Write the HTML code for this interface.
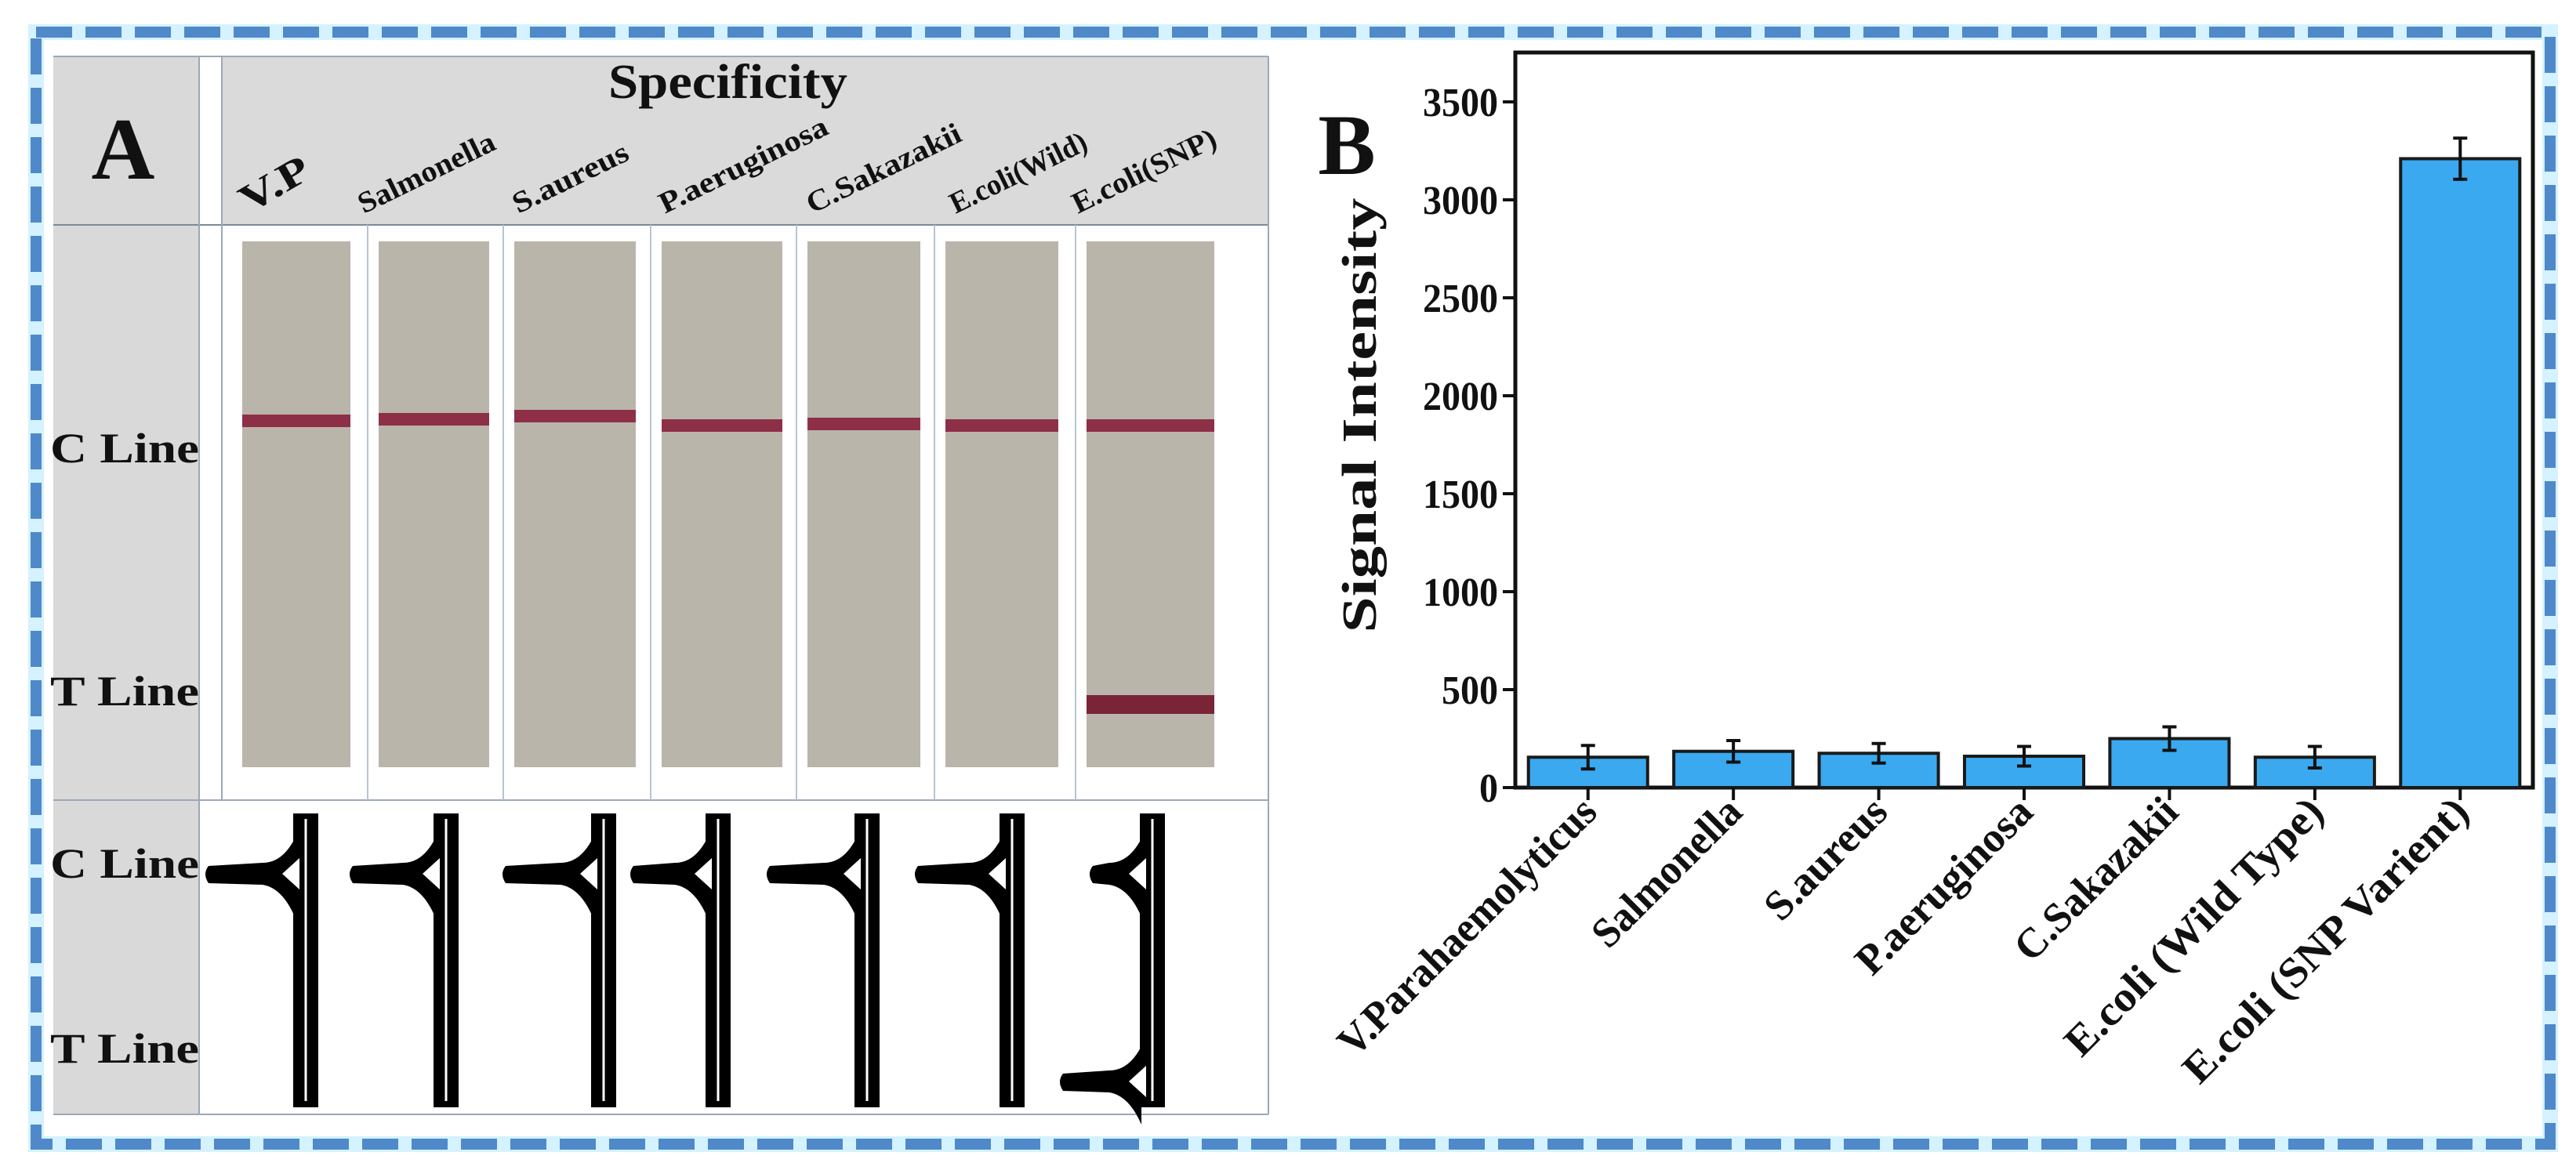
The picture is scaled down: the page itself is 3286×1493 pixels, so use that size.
<!DOCTYPE html>
<html><head><meta charset="utf-8">
<style>
html,body{margin:0;padding:0;background:#fff;}
body{width:3286px;height:1493px;overflow:hidden;position:relative;font-family:"Liberation Serif",serif;}
svg{position:absolute;left:0;top:0;}
text{font-family:"Liberation Serif",serif;font-weight:bold;fill:#111;}
</style></head>
<body>
<svg width="3286" height="1493" viewBox="0 0 3286 1493" xmlns="http://www.w3.org/2000/svg">
  <rect x="46" y="41" width="3207" height="1419" fill="none" stroke="#d4f2ff" stroke-width="20"/>
  <rect x="46" y="41" width="3207" height="1419" fill="none" stroke="#4f89c9" stroke-width="14" stroke-dasharray="46 17"/>

  <g>
    <rect x="68" y="72" width="186" height="1350" fill="#d9d9d9"/>
    <rect x="283" y="72" width="1335" height="215" fill="#dadada"/>
    <line x1="68" y1="287" x2="1618" y2="287" stroke="#7a8a9a" stroke-width="2"/>
    <line x1="68" y1="1021" x2="1618" y2="1021" stroke="#9aa8b8" stroke-width="2"/>
    <line x1="68" y1="1422" x2="1618" y2="1422" stroke="#9aa8b8" stroke-width="2"/>
    <line x1="1618" y1="72" x2="1618" y2="1422" stroke="#9aa8b8" stroke-width="2"/>
    <line x1="68" y1="72" x2="1618" y2="72" stroke="#9aa8b8" stroke-width="2"/>
    <line x1="254" y1="72" x2="254" y2="1422" stroke="#9aa8b8" stroke-width="2"/>
    <line x1="283" y1="72" x2="283" y2="1021" stroke="#9aa8b8" stroke-width="2"/>
    <text x="157" y="228" font-size="112" text-anchor="middle">A</text>
    <text x="776" y="125" font-size="62" textLength="305" lengthAdjust="spacingAndGlyphs">Specificity</text>
    <text x="64" y="590" font-size="54" textLength="190" lengthAdjust="spacingAndGlyphs">C Line</text>
    <text x="64" y="900" font-size="54" textLength="190" lengthAdjust="spacingAndGlyphs">T Line</text>
    <text x="64" y="1120" font-size="54" textLength="190" lengthAdjust="spacingAndGlyphs">C Line</text>
    <text x="64" y="1356" font-size="54" textLength="190" lengthAdjust="spacingAndGlyphs">T Line</text>
    <g id="strips"></g>
    <g id="peaks"></g>
    <g id="strip-labels"></g>
  </g>

  <g>
    <text x="1718" y="222" font-size="110" text-anchor="middle">B</text>
    <text transform="translate(1755,530) rotate(-90)" font-size="62" text-anchor="middle" textLength="555" lengthAdjust="spacingAndGlyphs">Signal Intensity</text>
    <g id="chart"></g>
  </g>
</svg>
<script>
// ---- Chart data ----
const categories = ["V.Parahaemolyticus","Salmonella","S.aureus","P.aeruginosa","C.Sakazakii","E.coli (Wild Type)","E.coli (SNP Varient)"];
const values = [155, 185, 175, 160, 250, 155, 3210];
const errors = [60, 55, 50, 50, 60, 55, 105];
const yTicks = [0, 500, 1000, 1500, 2000, 2500, 3000, 3500];
const yMax = 3752;

// ---- Panel A data ----
const stripNames = ["V.P","Salmonella","S.aureus","P.aeruginosa","C.Sakazakii","E.coli(Wild)","E.coli(SNP)"];
const tLinePresent = [0,0,0,0,0,0,1];

const NS = "http://www.w3.org/2000/svg";
function mk(tag, attrs, parent){const e=document.createElementNS(NS,tag);for(const k in attrs)e.setAttribute(k,attrs[k]);parent.appendChild(e);return e;}

const stripL = [309,483,656,844,1030,1206,1386];
const stripR = [447,624,811,998,1174,1350,1549];
const labelX = [317,464,661,848,1036,1219,1375];
const labelLen = [95,190,160,235,215,190,200];
const peakX = [390,569,770,916,1106,1291,1470];
const armL = [266,450,645,808,982,1171,1394];
const cY = [537,535,531,543,541,543,543];
const strips = document.getElementById('strips');
const peaks = document.getElementById('peaks');
const slabels = document.getElementById('strip-labels');
for (let i=0;i<stripNames.length;i++){
  if(i>0){
    const sep = mk('line',{x1:stripL[i]-14,y1:287,x2:stripL[i]-14,y2:1021,stroke:'#b8c4d0','stroke-width':2},strips);
    
    
  }
  const s = mk('rect',{x:stripL[i],y:308,width:stripR[i]-stripL[i],height:671,fill:'#b9b5aa'},strips);
  
  
  const c = mk('rect',{x:stripL[i],y:cY[i]-8,width:stripR[i]-stripL[i],height:16,fill:'#8e2f48'},strips);
  
  
  if(tLinePresent[i]){
    const t = mk('rect',{x:stripL[i],y:887,width:stripR[i]-stripL[i],height:24,fill:'#7a2438'},strips);
    
    
  }
  const lab = mk('text',{transform:`translate(${labelX[i]},273) rotate(${i===0?-30:-26})`,'font-size':i===0?50:38,textLength:labelLen[i],lengthAdjust:'spacingAndGlyphs'},slabels);
  lab.textContent = stripNames[i];
  
  
  const px = peakX[i];
  const v = mk('rect',{x:px-16,y:1038,width:32,height:375,fill:'#000'},peaks);
  
  
  mk('line',{x1:px,y1:1045,x2:px,y2:1405,stroke:'#fff','stroke-width':3},peaks);
  const arms = [1115];
  if(tLinePresent[i]) arms.push(1380);
  arms.forEach((ay,k)=>{
    const al = (k===1)?1356:armL[i];
    const p = mk('path',{d:`M${al} ${ay-10} Q${al-8} ${ay} ${al} ${ay+12} L${px-55} ${ay+14} Q${px-30} ${ay+18} ${px-14} ${ay+55} L${px-14} ${ay-45} Q${px-30} ${ay-14} ${px-55} ${ay-14} Z`,fill:'#000'},peaks);
    
    
    mk('path',{d:`M${px-30} ${ay} L${px-8} ${ay-20} L${px-8} ${ay+20} Z`,fill:'#fff'},peaks);
  });
}

const chart = document.getElementById('chart');
const X0=1933, X1=3231, Y0=1005, YT=67;
const band=(X1-X0)/categories.length;
function xC(i){return X0+band*(i+0.5);}
function yS(v){return Y0-(v/yMax)*(Y0-YT);}
const frame = mk('rect',{x:X0,y:YT,width:X1-X0,height:Y0-YT,fill:'#fff',stroke:'#111','stroke-width':5},chart);


yTicks.forEach(t=>{
  const y=yS(t);
  const tk = mk('line',{x1:X0-16,y1:y,x2:X0,y2:y,stroke:'#111','stroke-width':4},chart);
  
  
  const w = String(t).length*24;
  const tl = mk('text',{x:X0-22,y:y+18,'font-size':52,'text-anchor':'end',textLength:w,lengthAdjust:'spacingAndGlyphs'},chart);
  tl.textContent=t;
  
  
});
const bw = band*0.82;
categories.forEach((c,i)=>{
  const cx=xC(i), y=yS(values[i]);
  const b = mk('rect',{x:cx-bw/2,y:y,width:bw,height:Y0-y,fill:'#3aa9ef',stroke:'#1a1a1a','stroke-width':4},chart);
  
  
  const yt=yS(values[i]+errors[i]), yb=yS(values[i]-errors[i]);
  const e = mk('path',{d:`M${cx} ${yt} L${cx} ${yb} M${cx-9} ${yt} L${cx+9} ${yt} M${cx-9} ${yb} L${cx+9} ${yb}`,stroke:'#111','stroke-width':4,fill:'none'},chart);
  
  
  const xt = mk('line',{x1:cx,y1:Y0,x2:cx,y2:Y0+16,stroke:'#111','stroke-width':4},chart);
  
  
  const xl = mk('text',{transform:`translate(${cx+14},${Y0+34}) rotate(-45)`,'font-size':54,'text-anchor':'end',textLength:c.length*24.5,lengthAdjust:'spacingAndGlyphs'},chart);
  xl.textContent=c;
  
  
});
</script>
</body></html>
